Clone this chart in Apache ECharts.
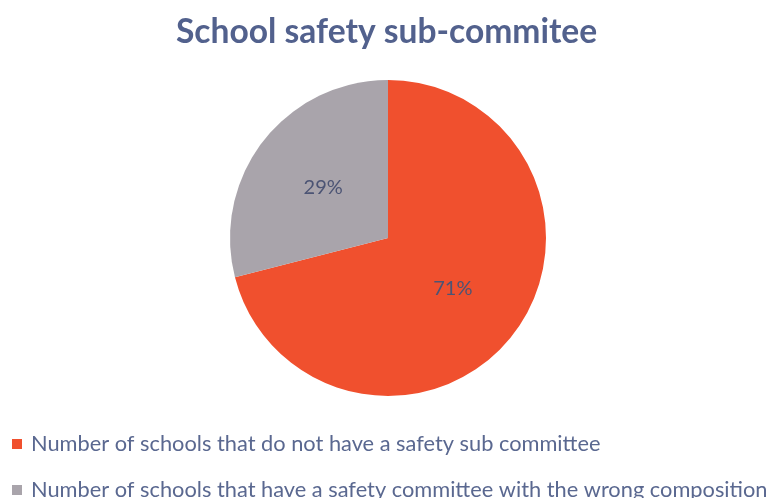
<!DOCTYPE html>
<html><head><meta charset="utf-8">
<script src="https://cdn.jsdelivr.net/npm/echarts@6/dist/echarts.min.js"></script>
<style>html,body{margin:0;padding:0;background:#fff}#c{width:769px;height:498px}</style>
</head><body><div id="c"></div>
<script>
var categories = ["Number of schools that do not have a safety sub committee", "Number of schools that have a safety committee with the wrong composition"];
var values = [71, 29];
var colors = ["#f0502e", "#a9a4ab"];
var legendTops = [428, 474];
var chart = echarts.init(document.getElementById('c'));
chart.setOption({
  animation: false,
  title: {
    text: "School safety sub-commitee",
    left: 171, top: 10,
    textStyle: {fontFamily: 'Lato', fontWeight: 'bold', fontSize: 33.6, color: '#52618d'}
  },
  legend: categories.map(function(n, i){ return {
    orient: 'horizontal', left: 7, top: legendTops[i],
    itemWidth: 10, itemHeight: 10, icon: 'rect',
    textStyle: {fontFamily: 'Lato', fontSize: 21.8, color: '#5a6890', padding: [0,0,0,4]},
    data: [n]
  }; }),
  series: [{
    type: 'pie', center: [388, 238], radius: 158, startAngle: 90, clockwise: true,
    label: {position: 'inside', formatter: '{d}%', fontFamily: 'Lato', fontSize: 20, color: '#4c5474'},
    labelLine: {show: false},
    data: categories.map(function(n, i){ return {name: n, value: values[i], itemStyle: {color: colors[i]}}; })
  }]
});
</script></body></html>
